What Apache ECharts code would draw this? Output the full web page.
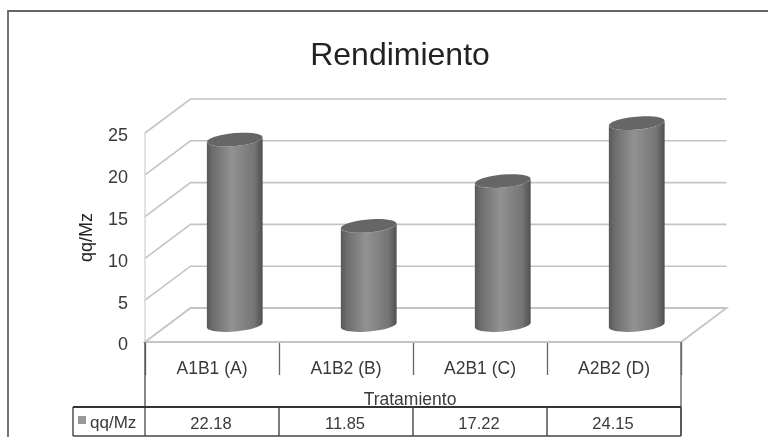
<!DOCTYPE html>
<html><head><meta charset="utf-8">
<style>html,body{margin:0;padding:0;background:#fff}#c{width:768px;height:437px;filter:blur(0.7px)}</style>
<script src="https://cdn.jsdelivr.net/npm/echarts@6/dist/echarts.min.js"></script>
</head><body><div id="c"></div>
<script>
var categories = ['A1B1 (A)', 'A1B2 (B)', 'A2B1 (C)', 'A2B2 (D)'];
var values = [22.18, 11.85, 17.22, 24.15];
var valueTexts = ['22.18', '11.85', '17.22', '24.15'];
var ticks = [0, 5, 10, 15, 20, 25];
var seriesName = 'qq/Mz';
var DX = 45.5, DY = -34;
var font = '"Liberation Sans", Arial, sans-serif';
var chart = echarts.init(document.getElementById('c'));
var gridStyle = {stroke:'#c4c4c4', lineWidth:1.6, fill:null};

function frameRender(params, api){
  var v = api.value(0);
  var a = api.coord([0, v]);
  var r = params.coordSys;
  var x0 = r.x, x1 = r.x + r.width, y = a[1];
  var kids = [];
  if (v === 0) {
    kids.push({type:'polygon', shape:{points:[[x0,y],[x0+DX,y+DY],[x1+DX,y+DY],[x1,y]]}, style:{fill:'#fff', stroke:'#c4c4c4', lineWidth:1.8}});
  } else {
    kids.push({type:'polyline', shape:{points:[[x0,y],[x0+DX,y+DY],[x1+DX,y+DY]]}, style:gridStyle});
  }
  if (v === 25) {
    var yb = api.coord([0,0])[1];
    kids.push({type:'line', shape:{x1:x0,y1:yb,x2:x0,y2:y}, style:{stroke:'#cfcfcf', lineWidth:1.2}});
  }
  return {type:'group', children:kids};
}

function cylRender(params, api){
  var idx = api.value(0), v = api.value(1);
  var base = api.coord([idx, 0]), top = api.coord([idx, v]);
  var cx = base[0] + DX/2, by = base[1] + DY/2, ty = top[1] + DY/2;
  var rx = 28, ry = 6.5, tilt = -5 * Math.PI/180;
  function ell(cy, from, to){
    var pts = [];
    for (var i=0;i<=24;i++){
      var t = from + (to-from)*i/24;
      var px = rx*Math.cos(t), py = ry*Math.sin(t);
      pts.push([cx + px*Math.cos(tilt) - py*Math.sin(tilt), cy + px*Math.sin(tilt) + py*Math.cos(tilt)]);
    }
    return pts;
  }
  var body = ell(ty, Math.PI, 0).concat(ell(by, 0, Math.PI));
  var grad = new echarts.graphic.LinearGradient(0,0,1,0,[
    {offset:0,color:'#585858'},{offset:0.1,color:'#6c6c6c'},{offset:0.45,color:'#929292'},
    {offset:0.85,color:'#757575'},{offset:1,color:'#505050'}]);
  return {type:'group', children:[
    {type:'polygon', shape:{points:body}, style:{fill:grad}},
    {type:'polygon', shape:{points:ell(ty,0,Math.PI*2)}, style:{fill:'#666'}}
  ]};
}

function tableRender(params, api){
  var i = api.value(0);
  var r = params.coordSys;
  var c = api.coord([i, 0]);
  var w = api.size([1,0])[0];
  var y0 = r.y + r.height, yT = 407, yB = 436;
  var xr = c[0] + w/2;
  var line = {stroke:'#444', lineWidth:1.4};
  var kids = [
    {type:'line', shape:{x1:xr,y1:yT,x2:xr,y2:yB}, style:line},
    {type:'text', style:{x:c[0]-1, y:(yT+yB)/2+2.5, text:api.value(2), fill:'#3a3a3a', font:'16.5px '+font, align:'center', verticalAlign:'middle'}}
  ];
  if (i === 0) {
    var x0 = r.x, x1 = r.x + r.width;
    kids.push({type:'line', shape:{x1:x0,y1:y0,x2:x0,y2:yB}, style:{stroke:'#555',lineWidth:1.4}});
    kids.push({type:'line', shape:{x1:x1,y1:y0,x2:x1,y2:yB}, style:{stroke:'#666',lineWidth:1.4}});
    kids.push({type:'line', shape:{x1:73,y1:yT,x2:x1,y2:yT}, style:{stroke:'#333',lineWidth:2.2}});
    kids.push({type:'line', shape:{x1:73,y1:yB,x2:x1,y2:yB}, style:line});
    kids.push({type:'line', shape:{x1:73,y1:yT,x2:73,y2:yB}, style:line});
    kids.push({type:'rect', shape:{x:78,y:416,width:8,height:8}, style:{fill:'#999'}});
    kids.push({type:'text', style:{x:90, y:(yT+yB)/2+2, text:seriesName, fill:'#3a3a3a', font:'17px '+font, align:'left', verticalAlign:'middle'}});
  }
  return {type:'group', children:kids};
}

chart.setOption({
  animation:false,
  backgroundColor:'#fff',
  title:{text:'Rendimiento', left:395, top:35, textAlign:'center', textStyle:{fontFamily:font, fontSize:32, fontWeight:'normal', color:'#222'}},
  grid:{left:145, right:87, top:133, height:209},
  graphic:[{type:'polyline', shape:{points:[[8,437],[8,11],[768,11]]}, style:{fill:null, stroke:'#666', lineWidth:1.8}, silent:true, z:-1}],
  xAxis:{type:'category', data:categories, boundaryGap:true, name:'Tratamiento', nameLocation:'middle', nameGap:49,
    nameTextStyle:{fontFamily:font, fontSize:17.5, color:'#3a3a3a', padding:[0,6,0,0]},
    axisLine:{show:true, lineStyle:{color:'#bdbdbd', width:1.8}},
    axisTick:{show:true, length:33, alignWithLabel:false, lineStyle:{color:'#666', width:1.3}},
    axisLabel:{fontFamily:font, fontSize:17.5, color:'#3a3a3a', margin:18}},
  yAxis:{type:'value', min:0, max:25, interval:5, name:'qq/Mz', nameLocation:'middle', nameGap:49,
    nameTextStyle:{fontFamily:font, fontSize:18, color:'#222'},
    axisLine:{show:false}, axisTick:{show:false}, splitLine:{show:false},
    axisLabel:{fontFamily:font, fontSize:18, color:'#3a3a3a', margin:17, verticalAlign:'top', lineHeight:7}},
  series:[
    {type:'custom', name:'frame', renderItem:frameRender, data:ticks.slice().map(function(t){return [t];}), encode:{y:0}, z:1, silent:true, clip:false},
    {type:'custom', name:seriesName, renderItem:cylRender, data:values.map(function(v,i){return [i,v];}), encode:{x:0,y:1}, z:2, clip:false},
    {type:'custom', name:'table', renderItem:tableRender, data:values.map(function(v,i){return [i,v,valueTexts[i]];}), encode:{x:0}, z:3, silent:true, clip:false}
  ]
});
</script></body></html>
